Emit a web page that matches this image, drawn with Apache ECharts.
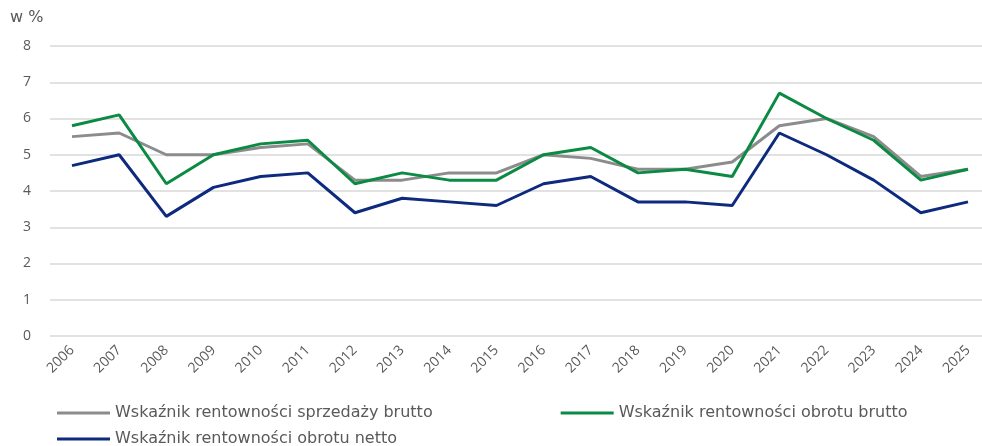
<!DOCTYPE html>
<html>
<head>
<meta charset="utf-8">
<script src="https://cdn.jsdelivr.net/npm/echarts@6/dist/echarts.min.js"></script>
<style>
html,body{margin:0;padding:0;background:#fff;}
#chart{width:982px;height:446px;}
</style>
</head>
<body>
<div id="chart"></div>
<script>
const years = ['2006','2007','2008','2009','2010','2011','2012','2013','2014','2015','2016','2017','2018','2019','2020','2021','2022','2023','2024','2025'];
const sprzedazyBrutto = [5.5,5.6,5.0,5.0,5.2,5.3,4.3,4.3,4.5,4.5,5.0,4.9,4.6,4.6,4.8,5.8,6.0,5.5,4.4,4.6];
const obrotuBrutto = [5.8,6.1,4.2,5.0,5.3,5.4,4.2,4.5,4.3,4.3,5.0,5.2,4.5,4.6,4.4,6.7,6.0,5.4,4.3,4.6];
const obrotuNetto = [4.7,5.0,3.3,4.1,4.4,4.5,3.4,3.8,3.7,3.6,4.2,4.4,3.7,3.7,3.6,5.6,5.0,4.3,3.4,3.7];
const seriesNames = ['Wskaźnik rentowności sprzedaży brutto','Wskaźnik rentowności obrotu brutto','Wskaźnik rentowności obrotu netto'];
const yTicks = [0,1,2,3,4,5,6,7,8];

const colors = ['#8c8c8c','#0b8a43','#0d2a7e'];
const font = 'DejaVu Sans';
const chart = echarts.init(document.getElementById('chart'), null, {renderer:'canvas'});
const legendText = {color:'#595959', fontSize:16, fontFamily:font};
const yMin = yTicks[0], yMax = yTicks[yTicks.length-1];
chart.setOption({
  animation:false,
  title:{text:'w %', left:5, top:5, textStyle:{color:'#595959', fontSize:16, fontWeight:'normal', fontFamily:font}},
  grid:[
    {left:72, right:14, top:46, bottom:110},
    {left:50, right:0, top:46, bottom:110}
  ],
  legend:[
    {data:[seriesNames[0],seriesNames[1]], left:52, top:400, itemWidth:53, itemHeight:3, itemGap:128, icon:'rect', textStyle:legendText},
    {data:[seriesNames[2]], left:52, top:426, itemWidth:53, itemHeight:3, icon:'rect', textStyle:legendText}
  ],
  xAxis:[
    {type:'category', data:years, boundaryGap:false, gridIndex:0,
      axisLine:{show:false}, axisTick:{show:false}, splitLine:{show:false},
      axisLabel:{rotate:45, color:'#595959', fontSize:14, fontFamily:'Open Sans', margin:12}},
    {type:'value', gridIndex:1, show:false}
  ],
  yAxis:[
    {type:'value', min:yMin, max:yMax, interval:1, gridIndex:0,
      axisLine:{show:false}, axisTick:{show:false}, splitLine:{show:false},
      axisLabel:{color:'#595959', fontSize:14, fontFamily:'Open Sans', margin:41}},
    {type:'value', min:yMin, max:yMax, interval:1, gridIndex:1,
      axisLine:{show:false}, axisTick:{show:false}, axisLabel:{show:false},
      splitLine:{lineStyle:{color:'#d9d9d9', width:1.5}}}
  ],
  series:[
    {name:seriesNames[0], type:'line', data:sprzedazyBrutto, symbol:'none', lineStyle:{width:3, color:colors[0]}, itemStyle:{color:colors[0]}},
    {name:seriesNames[1], type:'line', data:obrotuBrutto, symbol:'none', lineStyle:{width:3, color:colors[1]}, itemStyle:{color:colors[1]}},
    {name:seriesNames[2], type:'line', data:obrotuNetto, symbol:'none', lineStyle:{width:3, color:colors[2]}, itemStyle:{color:colors[2]}}
  ]
});
</script>
</body>
</html>
